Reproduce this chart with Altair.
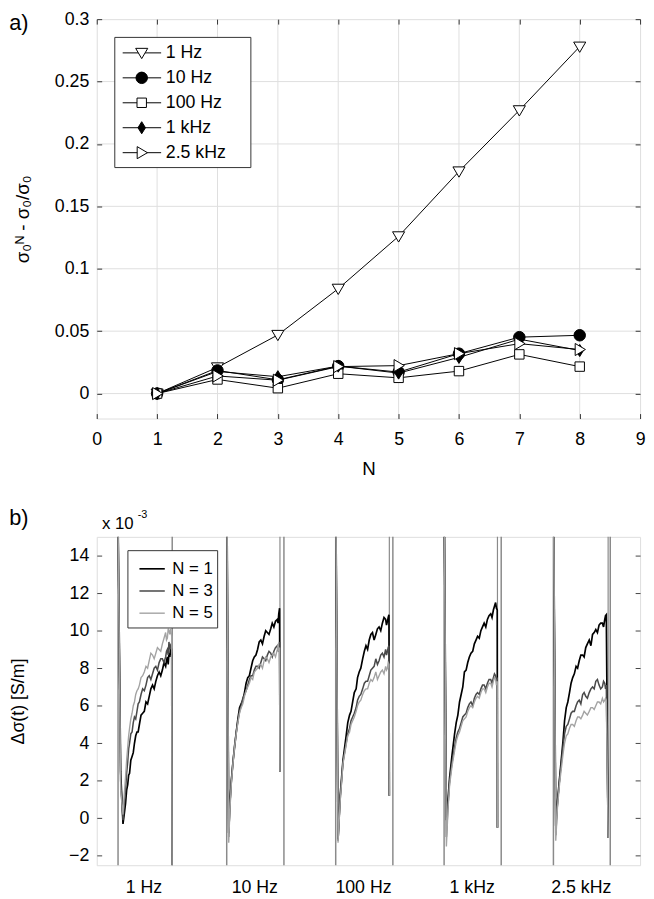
import altair as alt
import pandas as pd

FONT = "Liberation Sans"

# ---------------- panel a data ----------------
N_vals = [1, 2, 3, 4, 5, 6, 7, 8]
series_a = ["1 Hz", "10 Hz", "100 Hz", "1 kHz", "2.5 kHz"]
a_1hz = [0, 0.021, 0.047, 0.084, 0.126, 0.178, 0.227, 0.278]
a_10hz = [0, 0.0185, 0.011, 0.022, 0.0172, 0.032, 0.0452, 0.0467]
a_100hz = [0, 0.0113, 0.0043, 0.0159, 0.0126, 0.018, 0.0314, 0.0216]
a_1khz = [0, 0.0177, 0.0135, 0.0220, 0.0164, 0.0290, 0.0436, 0.0345]
a_25khz = [0, 0.0141, 0.0107, 0.0216, 0.0224, 0.032, 0.040, 0.0353]
a_xticks = [0, 1, 2, 3, 4, 5, 6, 7, 8, 9]
a_yticks = [0, 0.05, 0.1, 0.15, 0.2, 0.25, 0.3]
a_xgrid = [1, 2, 3, 4, 5, 6, 7, 8]
a_ygrid = [0, 0.05, 0.1, 0.15, 0.2, 0.25]

# ---------------- panel b data (values in 1e-3 S/m) ----------------
b_series = ["N = 1", "N = 3", "N = 5"]
b_freq_labels = ["1 Hz", "10 Hz", "100 Hz", "1 kHz", "2.5 kHz"]
b_label_pos = [8.6, 29.0, 49.0, 69.0, 89.1]
b_block_start = [3.92, 23.92, 43.98, 63.93, 84.05]
b_block_end = [13.89, 34.45, 54.50, 74.44, 94.51]
b_spike_t = [33.72, 53.85, 73.75, 94.12]
b_spike_low = [2.5, 1.2, -0.5, -1.05]
b_end_t = [13.86, 33.72, 53.85, 73.75, 94.12]
b_end_v = [-2.5, 2.5, 1.2, -0.5, -1.05]

b1_t = [3.95, 4.40, 4.83, 5.05, 5.30, 5.50, 5.70, 5.87, 6.04, 6.27, 6.50, 6.72, 6.94, 7.17, 7.40, 7.62, 7.85, 8.15, 8.45, 8.75,
        9.06, 9.36, 9.66, 9.96, 10.27, 10.57, 10.87, 11.17, 11.48, 11.78, 12.08, 12.38, 12.68, 12.84, 13.00, 13.15, 13.29, 13.44, 13.59, 13.80]
b1_n1 = [15, 2.5, -0.3, 0.2, 0.8, 1.5, 1.8, 2.3, 2.4, 3.1, 3.3, 3.5, 4.0, 4.4, 4.6, 4.6, 5.0, 5.5, 5.6, 5.7,
         6.2, 6.1, 6.5, 6.9, 7.1, 6.9, 7.3, 7.6, 7.8, 7.6, 7.9, 8.3, 8.1, 8.4, 8.6, 8.2, 8.8, 8.6, 9.1, 8.7]
b1_n3 = [15, 2.0, -0.1, 0.7, 1.5, 2.4, 3.0, 3.7, 4.0, 4.5, 4.6, 5.1, 5.4, 5.3, 5.7, 6.1, 6.2, 6.6, 6.9, 6.8,
         7.1, 7.5, 7.6, 7.4, 7.7, 8.0, 8.1, 7.9, 8.3, 8.5, 8.5, 8.3, 8.6, 8.9, 9.0, 8.7, 9.4, 9.0, 9.2, 9.0]
b1_n5 = [15, 1.5, 0.2, 1.2, 2.2, 3.1, 3.8, 4.4, 4.8, 5.3, 5.6, 6.0, 6.2, 6.6, 6.8, 6.9, 7.1, 7.5, 7.6, 7.8,
         8.1, 8.0, 8.4, 8.8, 8.7, 8.5, 8.8, 9.1, 9.0, 8.9, 9.3, 9.6, 9.9, 9.5, 9.6, 10.1, 10.0, 9.8, 10.1, 9.7]

b2_t = [24.00, 24.29, 24.50, 24.77, 25.07, 25.37, 25.68, 25.98, 26.28, 26.58, 26.88, 27.19, 27.49, 27.79, 28.09, 28.39, 28.70,
        29.0, 29.30, 29.60, 29.90, 30.2, 30.5, 30.81, 31.1, 31.4, 31.7, 32.02, 32.3, 32.6, 32.9, 33.23, 33.37, 33.50, 33.65]
b2_n1 = [15, -0.8, 0.8, 2.0, 3.0, 3.8, 4.6, 5.3, 5.9, 6.1, 6.3, 6.7, 7.2, 7.5, 7.6, 8.0, 8.4,
         8.6, 8.7, 9.0, 9.4, 9.5, 9.3, 9.7, 10.0, 9.9, 9.8, 10.1, 10.4, 10.2, 10.5, 10.6, 10.4, 10.9, 11.2]
b2_n3 = [15, -1.0, 0.6, 2.0, 3.0, 3.9, 4.6, 5.2, 5.7, 6.0, 6.4, 6.6, 6.8, 7.1, 7.4, 7.6, 7.6,
         7.9, 8.1, 8.1, 8.0, 8.3, 8.6, 8.5, 8.4, 8.7, 8.9, 8.8, 8.6, 8.9, 9.1, 9.2, 8.9, 9.1, 9.4]
b2_n5 = [15, -1.3, 0.4, 1.8, 2.9, 3.8, 4.5, 5.1, 5.6, 5.9, 6.1, 6.5, 6.8, 7.0, 7.2, 7.5, 7.4,
         7.8, 7.9, 8.0, 8.2, 8.2, 8.0, 8.4, 8.6, 8.5, 8.3, 8.6, 8.7, 8.8, 8.6, 9.0, 9.3, 8.9, 9.1]

b3_t = [44.05, 44.41, 44.8, 45.32, 45.9, 46.2, 46.53, 46.8, 47.1, 47.4, 47.74, 48.0, 48.3, 48.6, 48.94, 49.25, 49.55,
        49.85, 50.15, 50.45, 50.75, 51.05, 51.36, 51.66, 51.96, 52.27, 52.57, 52.87, 53.17, 53.33, 53.5, 53.64, 53.78]
b3_n1 = [15, -1.1, 1.2, 3.1, 4.4, 5.1, 5.5, 5.7, 6.2, 6.7, 6.9, 7.5, 7.8, 8.0, 8.5, 8.9, 9.2,
         9.0, 9.5, 9.8, 9.9, 9.5, 9.8, 10.1, 10.2, 10.0, 10.4, 10.7, 10.6, 10.3, 10.5, 10.7, 10.85]
b3_n3 = [15, -1.2, 1.0, 3.0, 4.0, 4.5, 4.8, 5.2, 5.4, 5.6, 5.9, 6.3, 6.5, 6.6, 6.9, 7.2, 7.3,
         7.3, 7.6, 7.9, 8.0, 8.1, 8.5, 8.2, 8.4, 8.7, 8.8, 8.6, 9.0, 8.7, 8.9, 9.1, 9.2]
b3_n5 = [15, -1.3, 0.9, 2.9, 3.9, 4.4, 4.6, 5.0, 5.2, 5.4, 5.7, 6.0, 6.2, 6.3, 6.6, 6.8, 6.9,
         6.9, 7.2, 7.4, 7.3, 7.5, 7.8, 7.4, 7.6, 7.8, 7.9, 7.7, 8.1, 7.9, 8.0, 8.3, 8.2]

b4_t = [64.0, 64.35, 64.65, 64.95, 65.4, 65.86, 66.16, 66.46, 66.77, 67.07, 67.37, 67.67, 67.98, 68.28, 68.58, 68.88, 69.19,
        69.5, 69.8, 70.09, 70.4, 70.7, 71.0, 71.3, 71.6, 71.9, 72.2, 72.51, 72.75, 73.0, 73.2, 73.41, 73.56, 73.71]
b4_n1 = [15, -0.1, 1.0, 2.2, 3.4, 4.5, 5.1, 5.5, 6.2, 6.6, 7.0, 7.8, 7.9, 8.3, 8.6, 8.8, 8.9,
         9.3, 9.5, 9.7, 9.6, 10.0, 10.2, 10.4, 10.2, 10.6, 10.8, 10.9, 10.7, 11.1, 11.3, 11.5, 11.2, 11.1]
b4_n3 = [15, -1.0, 0.7, 2.0, 3.0, 3.8, 4.3, 4.6, 4.8, 5.1, 5.4, 5.5, 5.6, 5.9, 6.1, 6.2, 6.0,
         6.4, 6.6, 6.7, 6.6, 6.9, 7.1, 7.1, 6.9, 7.2, 7.4, 7.4, 7.2, 7.5, 7.7, 7.6, 7.4, 7.5]
b4_n5 = [15, -1.5, 0.5, 1.8, 2.8, 3.6, 4.1, 4.4, 4.6, 4.9, 5.2, 5.3, 5.4, 5.7, 5.9, 6.0, 5.9,
         6.2, 6.4, 6.5, 6.4, 6.7, 6.9, 6.9, 6.7, 7.0, 7.2, 7.2, 7.0, 7.3, 7.5, 7.4, 7.1, 7.3]

b5_t = [84.12, 84.48, 84.8, 85.2, 85.81, 86.1, 86.41, 86.7, 87.01, 87.3, 87.6, 87.9, 88.22, 88.5, 88.8, 89.1, 89.43,
        89.7, 90.0, 90.3, 90.64, 90.95, 91.25, 91.55, 91.85, 92.15, 92.45, 92.75, 93.06, 93.28, 93.5, 93.64, 93.78]
b5_n1 = [15, -0.4, 0.9, 2.2, 4.1, 5.2, 5.9, 6.2, 6.7, 7.2, 7.5, 7.7, 8.1, 8.0, 8.4, 8.7, 8.7,
         8.6, 9.1, 9.3, 9.5, 9.2, 9.8, 9.9, 10.06, 9.9, 10.3, 10.4, 10.4, 10.2, 10.6, 10.8, 10.85]
b5_n3 = [15, -0.9, 0.8, 2.1, 3.8, 4.5, 4.9, 5.0, 5.3, 5.6, 5.7, 5.7, 6.0, 6.2, 6.3, 6.1, 6.6,
         6.7, 6.5, 6.4, 6.7, 6.9, 7.0, 6.9, 7.3, 7.4, 7.1, 6.9, 7.0, 7.3, 7.2, 6.9, 7.1]
b5_n5 = [15, -1.2, 0.6, 1.9, 3.4, 4.0, 4.4, 4.5, 4.8, 5.0, 5.0, 4.9, 5.2, 5.4, 5.4, 5.3, 5.5,
         5.7, 5.6, 5.5, 5.7, 5.9, 5.9, 5.8, 6.0, 6.2, 6.2, 6.1, 6.4, 6.2, 6.3, 6.4, 6.3]
b_yticks = [-2, 0, 2, 4, 6, 8, 10, 12, 14]

# ---------------- layout constants ----------------
W = 551
H1 = 405
H2 = 333
A_XD = [0, 9]
A_YD = [-0.02, 0.3]
B_XD = [0, 100]
B_YD = [-2.5, 15]

def ax_x(px):
    return A_XD[0] + px / W * (A_XD[1] - A_XD[0])

def ax_y(py):
    return A_YD[1] - py / H1 * (A_YD[1] - A_YD[0])

def bx_x(px):
    return B_XD[0] + px / W * (B_XD[1] - B_XD[0])

def bx_y(py):
    return B_YD[1] - py / H2 * (B_YD[1] - B_YD[0])

# ---------------- panel a ----------------
rows = []
for s, vals in zip(series_a, [a_1hz, a_10hz, a_100hz, a_1khz, a_25khz]):
    for n, v in zip(N_vals, vals):
        rows.append({"series": s, "N": n, "v": v})
dfa = pd.DataFrame(rows)

shape_range = [
    "M-1,-0.75L1,-0.75L0,0.95Z",
    "M-0.95,0A0.95,0.95,0,1,0,0.95,0A0.95,0.95,0,1,0,-0.95,0Z",
    "M-0.78,-0.78L0.78,-0.78L0.78,0.78L-0.78,0.78Z",
    "M0,-1L0.62,0L0,1L-0.62,0Z",
    "M-0.75,-1L-0.75,1L0.95,0Z",
]
fill_range = ["white", "black", "white", "black", "white"]
shape_scale = alt.Scale(domain=series_a, range=shape_range)
fill_scale = alt.Scale(domain=series_a, range=fill_range)

axis_common = dict(labelFont=FONT, titleFont=FONT, labelColor="black", titleColor="black",
                   titleFontWeight="normal", ticks=False, domain=False, zindex=1, labelFlush=False)

xA = alt.X("N:Q", scale=alt.Scale(domain=A_XD, nice=False),
           axis=alt.Axis(values=a_xticks, format="d", title="N", grid=True, gridColor="#333333",
                         gridDash=[5, H1 - 10, 5, 4000], labelFontSize=18, labelPadding=12,
                         titleFontSize=19, titlePadding=12, **axis_common))
yA = alt.Y("v:Q", scale=alt.Scale(domain=A_YD, nice=False, zero=False),
           axis=alt.Axis(values=a_yticks, format="~g", title="σ₀ᴺ - σ₀/σ₀", grid=True,
                         gridColor="#333333", gridDash=[5, W - 10, 5, 4000],
                         labelFontSize=18, labelPadding=8, titleFontSize=19, titlePadding=22,
                         **axis_common))

vgrid = alt.Chart(pd.DataFrame({"g": a_xgrid})).mark_rule(color="#dedede", strokeWidth=1).encode(
    x=alt.X("g:Q", scale=alt.Scale(domain=A_XD, nice=False)))
hgrid = alt.Chart(pd.DataFrame({"g": a_ygrid})).mark_rule(color="#dedede", strokeWidth=1).encode(
    y=alt.Y("g:Q", scale=alt.Scale(domain=A_YD, nice=False, zero=False)))

lines_a = alt.Chart(dfa).mark_line(color="black", strokeWidth=1).encode(
    x=xA, y=yA, detail="series:N", order="N:Q")
points_a = alt.Chart(dfa).mark_point(filled=True, stroke="black", strokeWidth=1, size=150, opacity=1).encode(
    x="N:Q", y="v:Q",
    shape=alt.Shape("series:N", scale=shape_scale, legend=None),
    fill=alt.Fill("series:N", scale=fill_scale, legend=None))

# legend (panel a)
leg_rows = []
for i, s in enumerate(series_a):
    py = 34.2 + i * 25.3
    leg_rows.append({"series": s, "ly": ax_y(py), "lx1": ax_x(26.3), "lx2": ax_x(65.3),
                     "ls": ax_x(45.6), "lt": ax_x(70.0)})
dleg = pd.DataFrame(leg_rows)
one = pd.DataFrame({"k": [0]})
leg_box = alt.Chart(one).mark_rect(fill="white", stroke="#333333", strokeWidth=1).encode(
    x=alt.value(18.3), x2=alt.value(156.3), y=alt.value(18.5), y2=alt.value(150.5))
leg_lines = alt.Chart(dleg).mark_rule(color="black", strokeWidth=1).encode(
    x="lx1:Q", x2="lx2:Q", y="ly:Q")
leg_pts = alt.Chart(dleg).mark_point(filled=True, stroke="black", strokeWidth=1, size=150, opacity=1).encode(
    x="ls:Q", y="ly:Q",
    shape=alt.Shape("series:N", scale=shape_scale, legend=None),
    fill=alt.Fill("series:N", scale=fill_scale, legend=None))
leg_txt = alt.Chart(dleg).mark_text(align="left", baseline="middle", font=FONT, fontSize=18, color="black").encode(
    x="lt:Q", y="ly:Q", text="series:N")
lab_a = alt.Chart(one).mark_text(text="a)", align="left", baseline="top", font=FONT, fontSize=22, color="black").encode(
    x=alt.value(-88.7), y=alt.value(-6))

top = alt.layer(vgrid, hgrid, lines_a, points_a, leg_box, leg_lines, leg_pts, leg_txt, lab_a).properties(
    width=W, height=H1)

# ---------------- panel b ----------------
brows = []
blocks = [
    (b1_t, [b1_n1, b1_n3, b1_n5]),
    (b2_t, [b2_n1, b2_n3, b2_n5]),
    (b3_t, [b3_n1, b3_n3, b3_n5]),
    (b4_t, [b4_n1, b4_n3, b4_n5]),
    (b5_t, [b5_n1, b5_n3, b5_n5]),
]
for bi, (ts, curves) in enumerate(blocks):
    for s, vals in zip(b_series, curves):
        k = 0
        for t, v in zip(ts, vals):
            brows.append({"block": bi, "series": s, "t": t, "v": v, "k": k})
            k += 1
        brows.append({"block": bi, "series": s, "t": b_end_t[bi], "v": b_end_v[bi], "k": k})
dfb = pd.DataFrame(brows)
dfb["key"] = dfb["series"] + "_" + dfb["block"].astype(str)

expr = ""
for p, l in zip(b_label_pos[:-1], b_freq_labels[:-1]):
    expr += f"datum.value < {p + 8} ? '{l}' : "
expr += f"'{b_freq_labels[-1]}'"

xB = alt.X("t:Q", scale=alt.Scale(domain=B_XD, nice=False),
           axis=alt.Axis(values=b_label_pos, labelExpr=expr, title=None, grid=False,
                         labelFontSize=18, labelPadding=14, **axis_common))
yB = alt.Y("v:Q", scale=alt.Scale(domain=B_YD, nice=False, zero=False),
           axis=alt.Axis(values=b_yticks, title="Δσ(t)  [S/m]", grid=True, gridColor="#444444",
                         gridDash=[5, W - 10, 5, 4000], labelFontSize=18, labelPadding=8,
                         titleFontSize=18, titlePadding=42, **axis_common))

full_rules = alt.Chart(pd.DataFrame({"t": b_block_start + b_block_end})).mark_rule(
    color="#8a8a8a", strokeWidth=1.5).encode(x=alt.X("t:Q", scale=alt.Scale(domain=B_XD, nice=False)))
spikes = alt.Chart(pd.DataFrame({"t": b_spike_t, "lo": b_spike_low, "hi": [B_YD[1]] * len(b_spike_t)})).mark_rule(
    color="#8a8a8a", strokeWidth=1.2).encode(x="t:Q", y=alt.Y("hi:Q", scale=alt.Scale(domain=B_YD, nice=False, zero=False)), y2="lo:Q")

color_scale = alt.Scale(domain=b_series, range=["#000000", "#4a4a4a", "#a3a3a3"])
width_scale = alt.Scale(domain=b_series, range=[1.7, 1.4, 1.3])
curves_b = alt.Chart(dfb).mark_line(clip=True).encode(
    x=xB, y=yB, detail="key:N", order="k:Q",
    color=alt.Color("series:N", scale=color_scale, legend=None),
    strokeWidth=alt.StrokeWidth("series:N", scale=width_scale, legend=None))

bleg_rows = []
for i, s in enumerate(b_series):
    py = 32.4 + i * 22.5
    bleg_rows.append({"series": s, "ly": bx_y(py), "lx1": bx_x(43.3), "lx2": bx_x(69.0), "lt": bx_x(76.6)})
dbleg = pd.DataFrame(bleg_rows)
bleg_box = alt.Chart(one).mark_rect(fill="white", stroke="#333333", strokeWidth=1).encode(
    x=alt.value(31.6), x2=alt.value(122.6), y=alt.value(14), y2=alt.value(92.4))
bleg_lines = alt.Chart(dbleg).mark_rule().encode(
    x="lx1:Q", x2="lx2:Q", y="ly:Q",
    color=alt.Color("series:N", scale=color_scale, legend=None),
    strokeWidth=alt.StrokeWidth("series:N", scale=width_scale, legend=None))
bleg_txt = alt.Chart(dbleg).mark_text(align="left", baseline="middle", font=FONT, fontSize=17, color="black").encode(
    x="lt:Q", y="ly:Q", text="series:N")
lab_b = alt.Chart(one).mark_text(text="b)", align="left", baseline="top", font=FONT, fontSize=22, color="black").encode(
    x=alt.value(-88.7), y=alt.value(-29))
exp_main = alt.Chart(one).mark_text(text="x 10", align="left", baseline="alphabetic", font=FONT, fontSize=17, color="black").encode(
    x=alt.value(5.3), y=alt.value(-8))
exp_sup = alt.Chart(one).mark_text(text="-3", align="left", baseline="alphabetic", font=FONT, fontSize=11, color="black").encode(
    x=alt.value(41.5), y=alt.value(-19))

bottom = alt.layer(full_rules, spikes, curves_b, bleg_box, bleg_lines, bleg_txt, lab_b, exp_main, exp_sup).properties(
    width=W, height=H2)

chart = alt.vconcat(top, bottom, spacing=27).properties(
    padding={"left": 0, "top": -5, "right": 0, "bottom": 0}).configure_view(
    stroke="#444444", strokeWidth=1).configure(background="white")

chart.save("out.html", embed_options={"renderer": "svg", "actions": False})
